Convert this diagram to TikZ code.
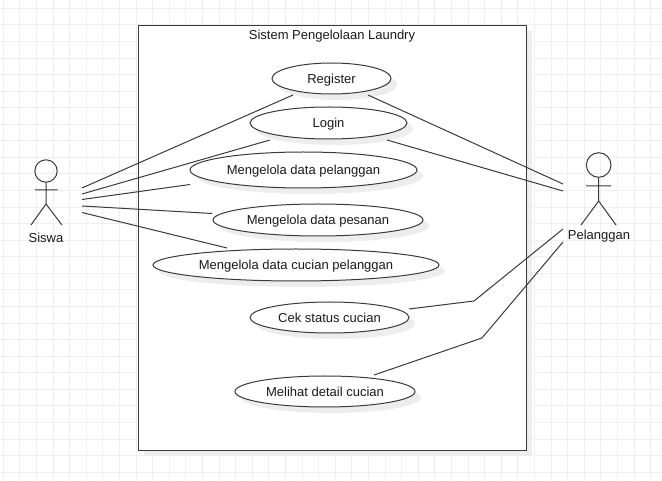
\documentclass[tikz,border=0pt]{standalone}
\usepackage{fontspec}
\setmainfont{Liberation Sans}
\usetikzlibrary{shapes.geometric,calc}
\definecolor{gridc}{HTML}{EFEFEF}
\definecolor{shadowc}{HTML}{EDEDED}
\definecolor{linec}{HTML}{3A3A3A}
\definecolor{textc}{HTML}{1A1A1A}
\tikzset{
  gridline/.style={gridc,line width=0.75pt},
  usecase/.style={ellipse,draw=linec,fill=white,line width=0.75pt,inner sep=0pt,
    font=\fontsize{9.75pt}{11pt}\selectfont,text=textc,text height=9pt,text depth=1.8pt},
  shade shape/.style={ellipse,fill=shadowc,draw=none,inner sep=0pt},
  conn/.style={linec,line width=0.75pt},
  stick/.style={linec,line width=0.75pt},
  label/.style={font=\fontsize{9.75pt}{11pt}\selectfont,text=textc,inner sep=0pt}
}
\newcommand{\ucase}[6]{% name, cx, cy, w, h, text
  \node[shade shape,minimum width=#4*0.75pt,minimum height=#5*0.75pt] at (#2+6,#3+6) {};
  \node[usecase,minimum width=#4*0.75pt,minimum height=#5*0.75pt] (#1) at (#2,#3) {#6};
}
\begin{document}
\begin{tikzpicture}[x=0.75pt,y=-0.75pt]
\useasboundingbox (0,0) rectangle (662,481);
\fill[white] (0,0) rectangle (662,481);
% grid
\foreach \k in {0,...,39} {\draw[gridline] ({3.3+16.6*\k},0) -- ({3.3+16.6*\k},481);}
\foreach \k in {0,...,28} {\draw[gridline] (0,{8.3+16.57*\k}) -- (662,{8.3+16.57*\k});}
% system boundary
\fill[shadowc] (144,31) rectangle (532,456);
\node[draw=linec,fill=white,line width=0.7pt,inner sep=0pt,minimum width=388*0.75pt,minimum height=425*0.75pt] (sys) at (332,237.5) {};
\node[label] (title) at (332,36) {Sistem Pengelolaan Laundry};
% actors
\node[label] (siswa) at (46,237.5) {Siswa};
\node[label] (pel) at (599,236.5) {Pelanggan};
\draw[stick] (46,171) circle (11.2);
\draw[stick] (46,182) -- (46,204) (35,190) -- (57.5,190) (31,225) -- (46,204) -- (62,225);
\draw[stick] (598.7,165) circle (12.3);
\draw[stick] (598.7,177.3) -- (598.7,201) (586,186) -- (611,186) (581,225) -- (598.7,201) -- (616,225);
% use cases
\ucase{reg}{331.5}{78.5}{119}{31}{Register}
\ucase{login}{328.5}{123}{157}{32}{Login}
\ucase{kelp}{303.5}{170}{227}{36}{Mengelola data pelanggan}
\ucase{kelq}{318}{220}{210}{32}{Mengelola data pesanan}
\ucase{kelc}{296}{265}{286}{32}{Mengelola data cucian pelanggan}
\ucase{cek}{329.5}{317.5}{159}{31}{Cek status cucian}
\ucase{lihat}{325}{391.5}{180}{31}{Melihat detail cucian}
% connectors
\draw[conn] ($(siswa)+(36,-49.5)$) -- ($(reg)+(-38.5,16.5)$);
\draw[conn] ($(siswa)+(36,-43.5)$) -- ($(login)+(-58.5,17)$);
\draw[conn] ($(siswa)+(36,-38)$) -- ($(kelp)+(-113.5,14.5)$);
\draw[conn] ($(siswa)+(36,-31.5)$) -- ($(kelq)+(-106,-6.5)$);
\draw[conn] ($(siswa)+(36,-25)$) -- ($(kelc)+(-69,-17)$);
\draw[conn] ($(pel)+(-36,-52.5)$) -- ($(reg)+(36.5,16.5)$);
\draw[conn] ($(pel)+(-36,-45.5)$) -- ($(login)+(58.5,17)$);
\draw[conn] ($(cek)+(79.5,-8.5)$) -- ($(cek)+(144.5,-16.5)$) -- ($(pel)+(-36,-7.5)$);
\draw[conn] ($(lihat)+(49,-16.5)$) -- ($(lihat)+(157,-53.5)$) -- ($(pel)+(-36,5.5)$);
\end{tikzpicture}
\end{document}
